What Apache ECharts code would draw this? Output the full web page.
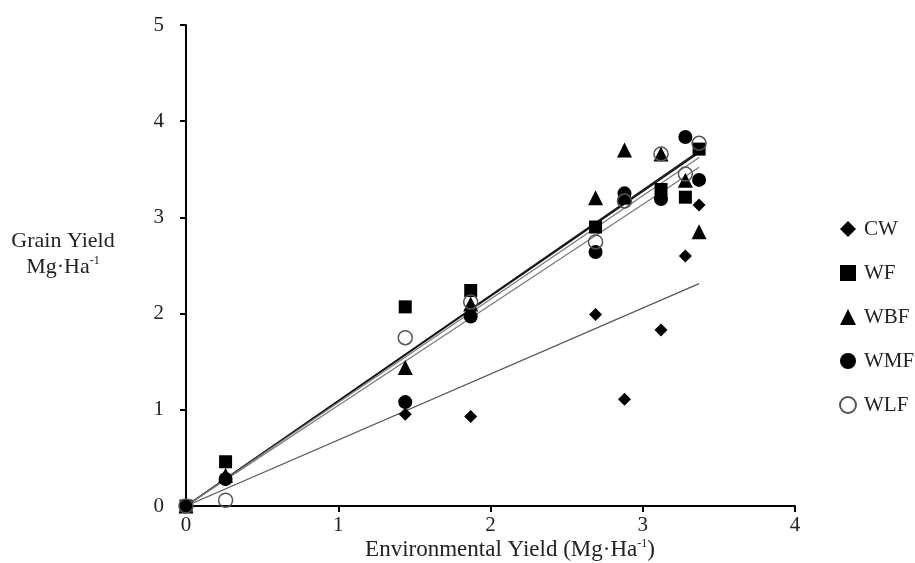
<!DOCTYPE html>
<html>
<head>
<meta charset="utf-8">
<script src="https://cdn.jsdelivr.net/npm/echarts@6/dist/echarts.min.js"></script>
<style>
  html, body { margin: 0; padding: 0; background: #fff; }
  #chart { width: 915px; height: 563px; }
</style>
</head>
<body>
<div id="chart"></div>
<script>
// environmental yield (x) shared by every treatment
var envYield = [0, 0.26, 1.44, 1.87, 2.69, 2.88, 3.12, 3.28, 3.37]

// grain yield per treatment
var CW = [0, 0.27, 0.955, 0.93, 1.99, 1.11, 1.83, 2.60, 3.13]
var WF = [0, 0.46, 2.07, 2.24, 2.90, 3.20, 3.29, 3.21, 3.71]
var WBF = [0, 0.32, 1.44, 2.10, 3.205, 3.70, 3.66, 3.385, 2.85]
var WMF = [0, 0.28, 1.08, 1.97, 2.64, 3.25, 3.19, 3.835, 3.39]
var WLF = [0, 0.06, 1.75, 2.12, 2.745, 3.17, 3.66, 3.45, 3.77]

// slopes of the fitted lines through the origin
var names = ['CW', 'WF', 'WBF', 'WMF', 'WLF']
var slopes = [0.686, 1.095, 1.09, 1.045, 1.075]

var xTicks = [0, 1, 2, 3, 4]
var yTicks = [0, 1, 2, 3, 4, 5]

var serif = 'Liberation Serif, Times New Roman, serif'
var values = [CW, WF, WBF, WMF, WLF]
var symbols = ['diamond', 'rect', 'triangle', 'circle', 'circle']
var sizes = [13, 13, 15, 14, 14]
var fitColors = ['#555', '#111', '#111', '#777', '#777']
var fitWidths = [1.2, 1.5, 1.5, 1.2, 1.2]

function pairs(ys) {
  return envYield.map(function (x, i) { return [x, ys[i]] })
}

var xMax = Math.max.apply(null, envYield)
var series = []

names.forEach(function (name, i) {
  series.push({
    name: name + ' fit',
    type: 'line',
    silent: true,
    symbol: 'none',
    z: 1,
    lineStyle: { color: fitColors[i], width: fitWidths[i] },
    data: [[0, 0], [xMax, slopes[i] * xMax]]
  })
})

names.forEach(function (name, i) {
  var open = name === 'WLF'
  series.push({
    name: name,
    type: 'scatter',
    symbol: symbols[i],
    symbolSize: sizes[i],
    z: 3,
    itemStyle: open
      ? { color: 'rgba(255,255,255,0)', borderColor: '#555', borderWidth: 1.5, opacity: 1 }
      : { color: '#000', opacity: 1 },
    data: pairs(values[i])
  })
})

var chart = echarts.init(document.getElementById('chart'))
chart.setOption({
  animation: false,
  backgroundColor: '#fff',
  textStyle: { fontFamily: serif },
  grid: { left: 186, right: 120, top: 25, bottom: 57 },
  xAxis: {
    type: 'value',
    min: xTicks[0],
    max: xTicks[xTicks.length - 1],
    interval: 1,
    splitLine: { show: false },
    axisLine: { onZero: false, lineStyle: { color: '#000', width: 2 } },
    axisTick: { length: 6, lineStyle: { color: '#000', width: 2 } },
    axisLabel: { margin: 9, fontSize: 21, color: '#222', fontFamily: serif }
  },
  yAxis: {
    type: 'value',
    min: yTicks[0],
    max: yTicks[yTicks.length - 1],
    interval: 1,
    splitLine: { show: false },
    axisLine: { show: true, onZero: false, lineStyle: { color: '#000', width: 2 } },
    axisTick: { show: true, length: 6, lineStyle: { color: '#000', width: 2 } },
    axisLabel: { margin: 22, fontSize: 21, color: '#222', fontFamily: serif }
  },
  legend: {
    data: names,
    orient: 'vertical',
    left: 834,
    top: 213,
    itemWidth: 16,
    itemHeight: 16,
    itemGap: 22,
    textStyle: { fontSize: 21, lineHeight: 22, color: '#222', fontFamily: serif, padding: [0, 0, 0, 3] }
  },
  graphic: [
    {
      type: 'text',
      x: 63, y: 241,
      style: {
        text: 'Grain Yield',
        align: 'center', verticalAlign: 'middle',
        font: '22px ' + serif, fill: '#222'
      }
    },
    {
      type: 'text',
      x: 63, y: 267,
      style: {
        text: '{a|Mg·Ha}{s|-1}',
        align: 'center', verticalAlign: 'middle',
        fill: '#222',
        rich: {
          a: { fontSize: 22, fontFamily: serif, lineHeight: 24 },
          s: { fontSize: 12, fontFamily: serif, lineHeight: 24, verticalAlign: 'top' }
        }
      }
    },
    {
      type: 'text',
      x: 510, y: 550,
      style: {
        text: '{a|Environmental Yield (Mg·Ha}{s|-1}{a|)}',
        align: 'center', verticalAlign: 'middle',
        fill: '#222',
        rich: {
          a: { fontSize: 23, fontFamily: serif, lineHeight: 24 },
          s: { fontSize: 12, fontFamily: serif, lineHeight: 24, verticalAlign: 'top' }
        }
      }
    }
  ],
  series: series
})
</script>
</body>
</html>
